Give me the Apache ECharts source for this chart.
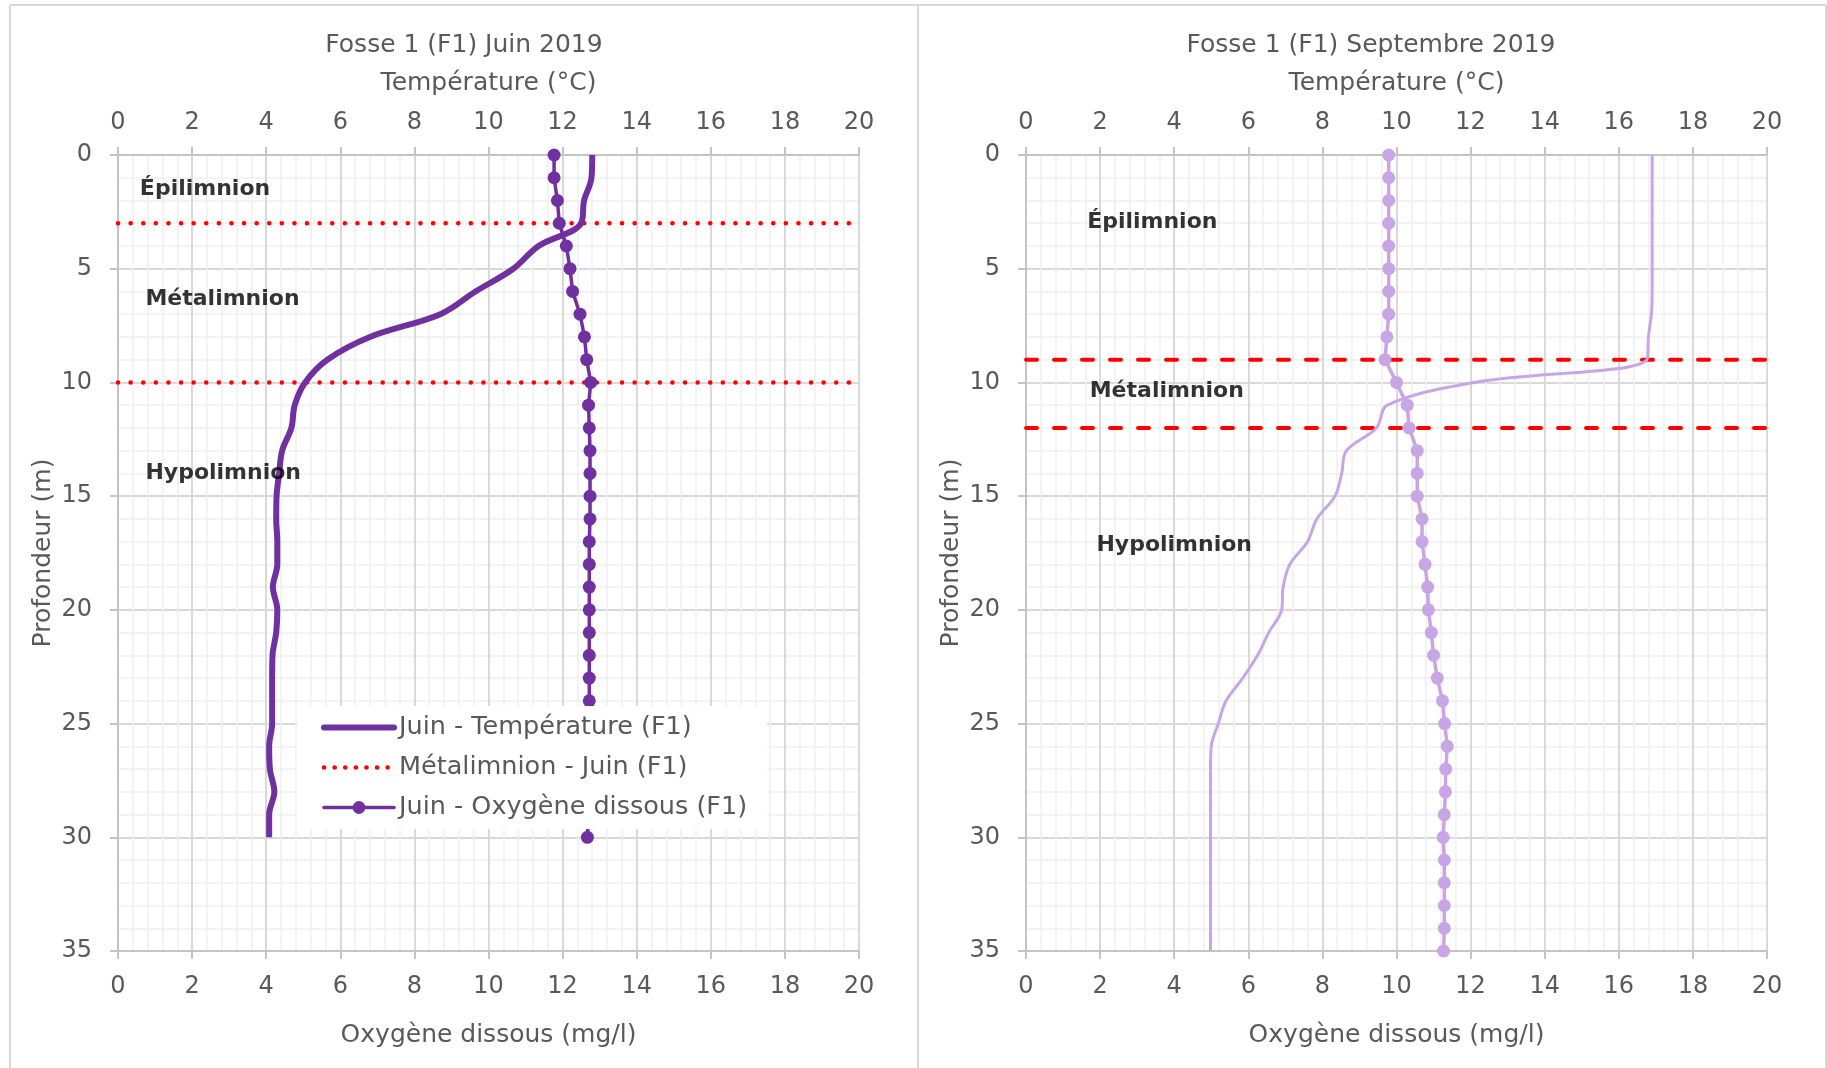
<!DOCTYPE html>
<html><head><meta charset="utf-8">
<script src="https://cdn.jsdelivr.net/npm/echarts@6/dist/echarts.min.js"></script>
<style>html,body{margin:0;padding:0;background:#fff}#c{width:1827px;height:1068px}</style>
</head><body><div id="c"></div>
<script>
// ---- Data ----
const depthsJuin = [0,1,2,3,4,5,6,7,8,9,10,11,12,13,14,15,16,17,18,19,20,21,22,23,24,25,26,27,28,29,30];
const juinTemp = [12.8,12.78,12.58,12.5,11.35,10.67,9.65,8.7,6.8,5.65,5.05,4.77,4.68,4.43,4.35,4.28,4.27,4.3,4.3,4.18,4.3,4.27,4.17,4.16,4.16,4.16,4.08,4.1,4.22,4.08,4.08];
const juinOxy = [11.77,11.77,11.86,11.91,12.1,12.2,12.27,12.47,12.59,12.65,12.76,12.7,12.72,12.74,12.74,12.74,12.74,12.72,12.72,12.72,12.72,12.72,12.72,12.72,12.72,12.72,12.72,12.72,12.7,12.7,12.67];
const depthsSept = [0,1,2,3,4,5,6,7,8,9,10,11,12,13,14,15,16,17,18,19,20,21,22,23,24,25,26,27,28,29,30,31,32,33,34,35];
const septTemp = [16.9,16.9,16.9,16.9,16.9,16.9,16.9,16.88,16.8,16.76,12.1,9.75,9.46,8.65,8.52,8.34,7.85,7.6,7.12,6.94,6.9,6.55,6.25,5.85,5.4,5.19,5.0,4.98,4.98,4.98,4.98,4.98,4.98,4.98,4.98,4.98];
const septOxy = [9.79,9.79,9.79,9.79,9.79,9.79,9.79,9.79,9.74,9.69,10.0,10.29,10.34,10.56,10.56,10.56,10.69,10.69,10.77,10.84,10.86,10.94,11.0,11.1,11.24,11.3,11.37,11.33,11.32,11.29,11.26,11.29,11.29,11.29,11.29,11.27];
const metaJuin = [3, 10];
const metaSept = [9, 12];
const annotLabels = ['Épilimnion','Métalimnion','Hypolimnion'];
const annotJuinX = [0.59, 0.74, 0.74];
const annotJuinDepth = [1.5, 6.33, 13.98];
const annotSeptX = [1.65, 1.72, 1.9];
const annotSeptDepth = [2.95, 10.37, 17.14];
const xTicks = {min:0, max:20, interval:2};
const yTicks = {min:0, max:35, interval:5};

// ---- Styles ----
const FONT = 'DejaVu Sans';
const TXT = '#595959';
const JUIN = '#7030A0';
const SEPT = '#C8A5E4';
const RED = '#FF0000';

const zip = (vals, deps) => vals.map((v,i)=>[v, deps[i]]);

function xAxis(grid, pos, name, gap, margin, split){
  return {
    type:'value', gridIndex:grid, position:pos, min:xTicks.min, max:xTicks.max, interval:xTicks.interval,
    name:name, nameLocation:'middle', nameGap:gap,
    nameTextStyle:{fontFamily:FONT, fontSize:25, color:TXT},
    axisLine:{show:true, onZero:false, lineStyle:{color:'#C4C4C4', width:2}},
    axisTick:{show:true, length:8, lineStyle:{color:'#C4C4C4', width:2}},
    axisLabel:{fontFamily:FONT, fontSize:24, color:TXT, margin:margin},
    splitLine:{show:split, lineStyle:{color:'#D9D9D9', width:2}},
    minorTick:{show:split, splitNumber:5, length:0, lineStyle:{opacity:0}},
    minorSplitLine:{show:split, lineStyle:{color:'#EFEFEF', width:1.5}}
  };
}
function yAxis(grid){
  return {
    type:'value', gridIndex:grid, inverse:true, min:yTicks.min, max:yTicks.max, interval:yTicks.interval,
    name:'Profondeur (m)', nameLocation:'middle', nameGap:62, nameRotate:90,
    nameTextStyle:{fontFamily:FONT, fontSize:25, color:TXT},
    axisLine:{show:true, onZero:false, lineStyle:{color:'#C4C4C4', width:2}},
    axisTick:{show:true, length:8, lineStyle:{color:'#C4C4C4', width:2}},
    axisLabel:{fontFamily:FONT, fontSize:24, color:TXT, margin:26},
    splitLine:{show:true, lineStyle:{color:'#D9D9D9', width:2}},
    minorTick:{show:true, splitNumber:5, length:0, lineStyle:{opacity:0}},
    minorSplitLine:{show:true, lineStyle:{color:'#EFEFEF', width:1.5}}
  };
}
function metaSeries(name, depths, xIdx, yIdx, style){
  return depths.map(d => ({
    name:name, type:'line', xAxisIndex:xIdx, yAxisIndex:yIdx, symbol:'none', silent:true, z:3,
    lineStyle:style, itemStyle:{color:RED},
    data:[[xTicks.min, d],[xTicks.max, d]]
  }));
}
function annot(xs, ds, xIdx, yIdx){
  return {
    type:'scatter', xAxisIndex:xIdx, yAxisIndex:yIdx, symbolSize:0, silent:true, z:6,
    itemStyle:{color:'rgba(0,0,0,0)'},
    label:{show:true, position:'right', distance:0, formatter:p=>p.name,
      fontFamily:FONT, fontSize:22, fontWeight:'bold', color:'#000'},
    data: annotLabels.map((t,i)=>({name:t, value:[xs[i], ds[i]]}))
  };
}

const dotted = {color:RED, width:4.5, type:[0.1, 12.5], cap:'round'};
const dashed = {color:RED, width:4, type:[11, 17], cap:'round'};

const option = {
  animation:false,
  backgroundColor:'#fff',
  graphic:[
    {type:'line', shape:{x1:10, y1:5, x2:1826, y2:5}, style:{stroke:'#D9D9D9', lineWidth:2}},
    {type:'line', shape:{x1:10, y1:5, x2:10, y2:1068}, style:{stroke:'#D9D9D9', lineWidth:2}},
    {type:'line', shape:{x1:918, y1:5, x2:918, y2:1068}, style:{stroke:'#D9D9D9', lineWidth:2}},
    {type:'line', shape:{x1:1826, y1:5, x2:1826, y2:1068}, style:{stroke:'#D9D9D9', lineWidth:2}},
    {type:'text', x:464, y:45, style:{text:'Fosse 1 (F1) Juin 2019', fontFamily:FONT, fontSize:25, fill:TXT, textAlign:'center', textVerticalAlign:'middle'}},
    {type:'text', x:1371, y:45, style:{text:'Fosse 1 (F1) Septembre 2019', fontFamily:FONT, fontSize:25, fill:TXT, textAlign:'center', textVerticalAlign:'middle'}}
  ],
  grid:[
    {left:118, top:155, width:741, height:796, outerBoundsMode:'none'},
    {left:1026, top:155, width:741, height:796, outerBoundsMode:'none'}
  ],
  xAxis:[
    xAxis(0,'top','Température (°C)',59,20,true),
    xAxis(0,'bottom','Oxygène dissous (mg/l)',72,24,false),
    xAxis(1,'top','Température (°C)',59,20,true),
    xAxis(1,'bottom','Oxygène dissous (mg/l)',72,24,false)
  ],
  yAxis:[ yAxis(0), yAxis(1) ],
  legend:{
    show:true, orient:'vertical', left:297, top:706, z:10,
    data:[
      {name:'Juin - Température (F1)', itemStyle:{opacity:0}, lineStyle:{color:JUIN, width:6, cap:'round'}},
      {name:'Métalimnion - Juin (F1)', itemStyle:{opacity:0}, lineStyle:{color:RED, width:4.5, type:[0.1, 10.5], cap:'round'}},
      {name:'Juin - Oxygène dissous (F1)', lineStyle:{color:JUIN, width:3.5, cap:'round'}}
    ],
    backgroundColor:'#fff', padding:[8,20,8,24],
    itemWidth:70, itemHeight:16, itemGap:13,
    textStyle:{fontFamily:FONT, fontSize:25.5, color:TXT, lineHeight:27},
    selectedMode:false
  },
  series:[
    {name:'Juin - Température (F1)', type:'line', xAxisIndex:0, yAxisIndex:0, smooth:0.35, symbol:'none', z:4,
     lineStyle:{color:JUIN, width:6}, itemStyle:{color:JUIN}, data:zip(juinTemp, depthsJuin)},
    ...metaSeries('Métalimnion - Juin (F1)', metaJuin, 1, 0, dotted),
    {name:'Juin - Oxygène dissous (F1)', type:'line', xAxisIndex:1, yAxisIndex:0, smooth:false, symbol:'circle', symbolSize:13, showAllSymbol:true, z:5,
     lineStyle:{color:JUIN, width:3.5}, itemStyle:{color:JUIN}, data:zip(juinOxy, depthsJuin)},
    annot(annotJuinX, annotJuinDepth, 1, 0),

    {name:'Sept - Température (F1)', type:'line', xAxisIndex:2, yAxisIndex:1, smooth:0.35, symbol:'none', z:4,
     lineStyle:{color:SEPT, width:3}, itemStyle:{color:SEPT}, data:zip(septTemp, depthsSept)},
    ...metaSeries('Métalimnion - Sept (F1)', metaSept, 3, 1, dashed),
    {name:'Sept - Oxygène dissous (F1)', type:'line', xAxisIndex:3, yAxisIndex:1, smooth:false, symbol:'circle', symbolSize:13, showAllSymbol:true, z:5,
     lineStyle:{color:SEPT, width:3.5}, itemStyle:{color:SEPT}, data:zip(septOxy, depthsSept)},
    annot(annotSeptX, annotSeptDepth, 3, 1)
  ]
};
const chart = echarts.init(document.getElementById('c'), null, {renderer:'canvas'});
chart.setOption(option);
</script></body></html>
